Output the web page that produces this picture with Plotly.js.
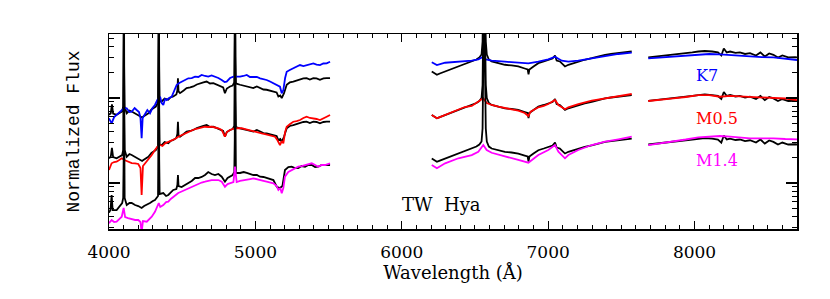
<!DOCTYPE html>
<html>
<head>
<meta charset="utf-8">
<script src="https://cdn.plot.ly/plotly-3.0.1.min.js"></script>
<style>html,body{margin:0;padding:0;background:#fff;}#chart{width:830px;height:299px;}</style>
</head>
<body>
<div id="chart"></div>
<script>
// ---- Data: log10 normalized flux ----
// TW Hya (black), master copy (middle panel), three wavelength segments
const twWlBlue = [4000,4012,4020,4028,4052,4075,4090,4097,4100,4102,4104,4107,4121,4140,4155,4178,4200,4226,4235,4255,4269,4290,4303,4320,4335,4338,4340.5,4343,4346,4360,4380,4405,4420,4439,4460,4467,4471,4475,4485,4510,4530,4555,4576,4600,4622,4645,4667,4690,4713,4735,4758,4780,4792,4805,4827,4845,4856,4859,4861.3,4864,4867,4895,4920,4941,4965,4986,5010,5032,5055,5077,5100,5123,5145,5157,5170,5180,5195,5214,5235,5259,5280,5305,5328,5350,5372,5396,5418,5441,5465,5487,5510];
const twBlue = [-0.709,-0.691,-0.588,-0.694,-0.709,-0.682,-0.671,-0.612,-0.141,0.918,-0.141,-0.612,-0.691,-0.659,-0.671,-0.694,-0.709,-0.741,-0.729,-0.706,-0.691,-0.647,-0.632,-0.612,-0.565,-0.141,0.918,-0.141,-0.553,-0.553,-0.518,-0.533,-0.506,-0.494,-0.471,-0.424,-0.279,-0.435,-0.455,-0.424,-0.396,-0.388,-0.376,-0.353,-0.338,-0.329,-0.318,-0.341,-0.338,-0.353,-0.376,-0.388,-0.455,-0.400,-0.376,-0.365,-0.329,-0.024,0.976,-0.024,-0.341,-0.356,-0.365,-0.376,-0.388,-0.396,-0.376,-0.396,-0.412,-0.415,-0.424,-0.435,-0.447,-0.494,-0.482,-0.514,-0.459,-0.356,-0.329,-0.318,-0.306,-0.298,-0.282,-0.279,-0.294,-0.279,-0.282,-0.298,-0.282,-0.279,-0.279];
const twWlRed = [6205,6225,6240,6260,6296,6340,6387,6430,6478,6510,6530,6545,6552,6556,6559,6563,6567,6570,6574,6581,6595,6614,6660,6705,6750,6796,6840,6860,6866,6872,6900,6933,6970,7001,7030,7047,7058,7080,7100,7115,7138,7170,7206,7250,7298,7340,7389,7430,7480,7530,7571];
const twRed = [-0.200,-0.224,-0.239,-0.224,-0.200,-0.165,-0.141,-0.106,-0.082,-0.059,-0.035,0.000,0.153,0.506,1.035,1.859,1.035,0.506,0.153,0.000,-0.059,-0.082,-0.102,-0.121,-0.129,-0.141,-0.165,-0.176,-0.235,-0.176,-0.141,-0.102,-0.082,-0.062,-0.047,-0.012,-0.071,-0.082,-0.118,-0.141,-0.121,-0.102,-0.082,-0.062,-0.044,-0.024,-0.004,0.006,0.015,0.027,0.035];
const twWlFar = [7684,7720,7760,7800,7855,7900,7940,7985,8026,8070,8120,8160,8183,8200,8220,8243,8280,8310,8345,8379,8420,8450,8480,8510,8539,8570,8600,8640,8687,8700];
const twFar = [-0.035,-0.029,-0.018,-0.012,-0.004,0.006,0.015,0.024,0.035,0.041,0.035,0.024,-0.012,0.071,0.024,0.035,0.018,0.024,0.006,0.015,-0.012,0.024,-0.024,0.012,-0.004,-0.035,-0.012,-0.035,-0.032,-0.035];
// TW Hya, lower (M1.4) copy in the blue segment
const twLowWlBlue = [4000,4010,4018,4025,4052,4075,4090,4097,4100,4102,4104,4107,4121,4140,4155,4178,4200,4223,4240,4258,4280,4300,4314,4335,4338,4340.5,4343,4346,4371,4390,4405,4425,4439,4460,4467,4471,4475,4496,4520,4542,4565,4588,4610,4633,4656,4678,4701,4724,4747,4770,4792,4810,4827,4845,4856,4859,4861.3,4864,4867,4895,4920,4941,4965,4986,5010,5032,5055,5077,5100,5123,5146,5168,5185,5202,5225,5248,5270,5293,5316,5339,5362,5385,5408,5430,5453,5476,5510];
const twLowBlue = [-1.349,-1.318,-1.141,-1.318,-1.318,-1.271,-1.235,-1.176,-0.729,0.329,-0.729,-1.176,-1.259,-1.235,-1.235,-1.259,-1.271,-1.294,-1.271,-1.259,-1.235,-1.212,-1.200,-1.153,-0.729,0.329,-0.729,-1.129,-1.118,-1.153,-1.141,-1.106,-1.082,-1.071,-1.024,-0.906,-1.035,-1.047,-1.024,-1.000,-0.976,-0.941,-0.941,-0.929,-0.906,-0.871,-0.894,-0.906,-0.894,-0.926,-0.985,-0.941,-0.926,-0.906,-0.871,-0.494,0.447,-0.494,-0.882,-0.882,-0.871,-0.882,-0.894,-0.906,-0.906,-0.926,-0.929,-0.941,-0.953,-0.965,-1.044,-1.059,-1.035,-0.847,-0.812,-0.808,-0.824,-0.824,-0.800,-0.808,-0.788,-0.788,-0.812,-0.808,-0.788,-0.788,-0.788];
// Panel offsets of the TW Hya copies (dex): K7, M0.5, M1.4
const twOffsets = [0.512, 0.0, -0.512];

// K7 template (blue)
const k7WlBlue = [4000,4018,4035,4052,4070,4087,4105,4121,4140,4155,4175,4189,4205,4215,4223,4230,4246,4262,4280,4297,4314,4330,4349,4360,4371,4383,4394,4410,4428,4445,4462,4480,4496,4520,4542,4565,4588,4610,4633,4656,4678,4701,4724,4747,4770,4790,4804,4827,4850,4872,4895,4918,4941,4963,4986,5010,5032,5055,5077,5100,5123,5145,5168,5180,5191,5203,5214,5235,5259,5282,5305,5328,5350,5373,5396,5418,5441,5464,5487,5510];
const k7Blue = [-0.239,-0.298,-0.224,-0.200,-0.165,-0.141,-0.118,-0.121,-0.165,-0.161,-0.118,-0.141,-0.165,-0.235,-0.474,-0.235,-0.180,-0.141,-0.180,-0.118,-0.082,-0.024,0.015,-0.059,-0.082,-0.012,-0.024,0.000,0.015,0.094,0.153,0.176,0.192,0.212,0.232,0.235,0.251,0.247,0.271,0.259,0.251,0.265,0.251,0.235,0.212,0.188,0.192,0.235,0.251,0.247,0.251,0.259,0.271,0.247,0.251,0.247,0.232,0.224,0.212,0.194,0.173,0.153,0.133,0.055,0.094,0.235,0.309,0.329,0.349,0.365,0.388,0.376,0.388,0.400,0.408,0.394,0.388,0.406,0.408,0.427];
const k7WlRed = [6205,6240,6296,6387,6478,6523,6557,6575,6614,6705,6796,6865,6933,7001,7047,7093,7138,7206,7298,7389,7480,7571];
const k7Red = [0.420,0.388,0.415,0.427,0.439,0.455,0.486,0.453,0.439,0.427,0.420,0.408,0.427,0.455,0.486,0.439,0.427,0.439,0.467,0.494,0.518,0.533];
const k7WlFar = [7684,7760,7855,7940,8026,8100,8174,8243,8310,8379,8460,8539,8620,8700];
const k7Far = [0.467,0.476,0.494,0.506,0.514,0.518,0.514,0.506,0.494,0.486,0.482,0.479,0.465,0.447];

// M0.5 template (red)
const m05WlBlue = [4000,4010,4018,4035,4052,4070,4087,4105,4130,4155,4178,4200,4215,4223,4232,4258,4275,4292,4314,4330,4349,4365,4383,4405,4428,4450,4473,4496,4519,4542,4565,4588,4610,4633,4656,4678,4701,4724,4747,4770,4792,4805,4827,4861,4884,4907,4930,4952,4975,4998,5020,5043,5066,5089,5112,5134,5150,5168,5180,5191,5203,5214,5237,5259,5282,5305,5328,5350,5373,5396,5418,5441,5464,5487,5510];
const m05Blue = [-0.847,-0.800,-0.768,-0.753,-0.749,-0.729,-0.709,-0.729,-0.749,-0.765,-0.768,-0.776,-0.824,-1.141,-0.800,-0.749,-0.706,-0.671,-0.612,-0.576,-0.553,-0.565,-0.533,-0.518,-0.494,-0.482,-0.455,-0.435,-0.415,-0.400,-0.376,-0.365,-0.356,-0.347,-0.338,-0.341,-0.338,-0.347,-0.356,-0.376,-0.455,-0.400,-0.376,-0.356,-0.353,-0.356,-0.365,-0.376,-0.388,-0.396,-0.406,-0.415,-0.424,-0.435,-0.441,-0.455,-0.494,-0.553,-0.506,-0.533,-0.400,-0.338,-0.306,-0.279,-0.271,-0.259,-0.235,-0.220,-0.235,-0.239,-0.247,-0.259,-0.235,-0.220,-0.200];
const m05WlRed = [6205,6225,6240,6260,6296,6340,6387,6430,6478,6523,6557,6580,6614,6660,6705,6750,6796,6840,6865,6880,6933,6970,7001,7047,7070,7093,7115,7138,7206,7298,7389,7480,7571];
const m05Red = [-0.200,-0.224,-0.239,-0.224,-0.200,-0.165,-0.141,-0.106,-0.094,-0.044,-0.004,-0.059,-0.082,-0.102,-0.121,-0.133,-0.149,-0.176,-0.212,-0.161,-0.109,-0.094,-0.071,-0.024,-0.082,-0.106,-0.133,-0.109,-0.071,-0.032,-0.004,0.015,0.047];
const m05WlFar = [7684,7760,7855,7940,8026,8100,8174,8243,8310,8379,8460,8539,8620,8700];
const m05Far = [-0.035,-0.024,-0.004,0.012,0.035,0.035,0.015,0.024,0.018,0.015,0.006,0.004,-0.006,-0.024];

// M1.4 template (magenta)
const m14WlBlue = [4000,4010,4018,4035,4052,4070,4087,4100,4110,4130,4155,4178,4200,4215,4223,4232,4258,4275,4292,4314,4330,4340,4350,4371,4390,4405,4422,4439,4455,4473,4496,4519,4542,4565,4588,4610,4633,4656,4678,4701,4724,4747,4770,4792,4810,4827,4850,4861,4872,4895,4918,4941,4964,4986,5010,5032,5055,5077,5100,5123,5145,5157,5170,5180,5191,5202,5225,5248,5270,5293,5316,5339,5362,5385,5408,5430,5453,5476,5510];
const m14Blue = [-1.474,-1.447,-1.435,-1.459,-1.455,-1.424,-1.396,-1.294,-1.400,-1.412,-1.424,-1.435,-1.435,-1.459,-1.580,-1.447,-1.455,-1.424,-1.396,-1.338,-1.271,-1.235,-1.282,-1.259,-1.224,-1.220,-1.188,-1.161,-1.141,-1.118,-1.100,-1.082,-1.065,-1.044,-1.024,-1.004,-0.994,-0.985,-0.976,-0.965,-0.965,-0.965,-0.985,-1.044,-1.012,-1.004,-0.988,-0.808,-0.988,-0.976,-0.971,-0.965,-0.953,-0.945,-0.953,-0.965,-0.976,-0.985,-0.994,-1.004,-1.035,-1.082,-1.059,-1.121,-1.059,-0.926,-0.871,-0.847,-0.824,-0.808,-0.800,-0.788,-0.776,-0.768,-0.788,-0.808,-0.788,-0.788,-0.768];
const m14WlRed = [6205,6240,6296,6387,6478,6523,6557,6580,6614,6705,6796,6865,6933,7001,7047,7070,7093,7115,7138,7206,7298,7389,7480,7571];
const m14Red = [-0.788,-0.827,-0.768,-0.709,-0.671,-0.632,-0.553,-0.612,-0.644,-0.691,-0.729,-0.761,-0.671,-0.612,-0.553,-0.632,-0.671,-0.709,-0.671,-0.612,-0.553,-0.514,-0.486,-0.455];
const m14WlFar = [7684,7760,7855,7940,8026,8100,8174,8243,8310,8379,8460,8539,8620,8700];
const m14Far = [-0.553,-0.535,-0.514,-0.488,-0.462,-0.453,-0.447,-0.455,-0.465,-0.474,-0.476,-0.474,-0.482,-0.486];

const labels = ['K7', 'M0.5', 'M1.4'];
const labelColors = ['#0000ff', '#ff0000', '#ff00ff'];
const objectName = 'TW  Hya';

// ---- Build traces ----
function segTrace(wl, logf, off, color) {
  return {
    x: wl, y: logf.map(v => Math.pow(10, v + off)),
    type: 'scatter', mode: 'lines', hoverinfo: 'skip', showlegend: false,
    line: {color: color, width: 1.8}
  };
}
const templates = [
  [[k7WlBlue, k7Blue], [k7WlRed, k7Red], [k7WlFar, k7Far]],
  [[m05WlBlue, m05Blue], [m05WlRed, m05Red], [m05WlFar, m05Far]],
  [[m14WlBlue, m14Blue], [m14WlRed, m14Red], [m14WlFar, m14Far]]
];
const traces = [];
for (let p = 0; p < 3; p++) {
  const off = twOffsets[p];
  if (p === 2) traces.push(segTrace(twLowWlBlue, twLowBlue, 0, '#000000'));
  else traces.push(segTrace(twWlBlue, twBlue, off, '#000000'));
  traces.push(segTrace(twWlRed, twRed, off, '#000000'));
  traces.push(segTrace(twWlFar, twFar, off, '#000000'));
  templates[p].forEach(s => traces.push(segTrace(s[0], s[1], 0, labelColors[p])));
}

const serif = 'DejaVu Serif, Liberation Serif, serif';
const annotations = [
  {x: 8085, y: 0.787, text: labels[0], color: labelColors[0]},
  {x: 8154, y: 0.569, text: labels[1], color: labelColors[1]},
  {x: 8154, y: 0.351, text: labels[2], color: labelColors[2]},
  {x: 6272, y: 0.125, text: objectName, color: '#000000', size: 18}
].map(a => ({
  x: a.x, y: a.y, xref: 'x', yref: 'paper', text: a.text, showarrow: false,
  xanchor: 'center', yanchor: 'middle',
  font: {family: serif, size: a.size || 16, color: a.color}
}));

const layout = {
  width: 830, height: 299,
  margin: {l: 109, r: 33, t: 34, b: 70},
  paper_bgcolor: '#ffffff', plot_bgcolor: '#ffffff',
  showlegend: false,
  xaxis: {
    range: [4000, 8700], dtick: 1000, tick0: 4000,
    ticks: 'inside', ticklen: 8, tickwidth: 1.2, tickcolor: '#000',
    minor: {ticks: 'inside', ticklen: 4, dtick: 100, tickwidth: 1, tickcolor: '#000', showgrid: false},
    showline: true, linecolor: '#000', linewidth: 1.5, mirror: 'ticks',
    showgrid: false, zeroline: false,
    ticklabelstandoff: 7,
    tickfont: {family: serif, size: 17, color: '#000'},
    title: {text: 'Wavelength (Å)', font: {family: serif, size: 18, color: '#000'}, standoff: 2}
  },
  yaxis: {
    type: 'log', range: [-1.541, 0.753], dtick: 1,
    ticks: 'inside', ticklen: 11, tickwidth: 1.2, tickcolor: '#000',
    minor: {ticks: 'inside', ticklen: 5, dtick: 'D1', tickwidth: 1, tickcolor: '#000', showgrid: false},
    showticklabels: false,
    showline: true, linecolor: '#000', linewidth: 1.5, mirror: 'ticks',
    showgrid: false, zeroline: false,
    title: {text: 'Normalized Flux', font: {family: 'Liberation Mono, Courier New, monospace', size: 18, color: '#000'}, standoff: 23}
  },
  annotations: annotations
};

Plotly.newPlot('chart', traces, layout, {displayModeBar: false, staticPlot: true});
</script>
</body>
</html>
